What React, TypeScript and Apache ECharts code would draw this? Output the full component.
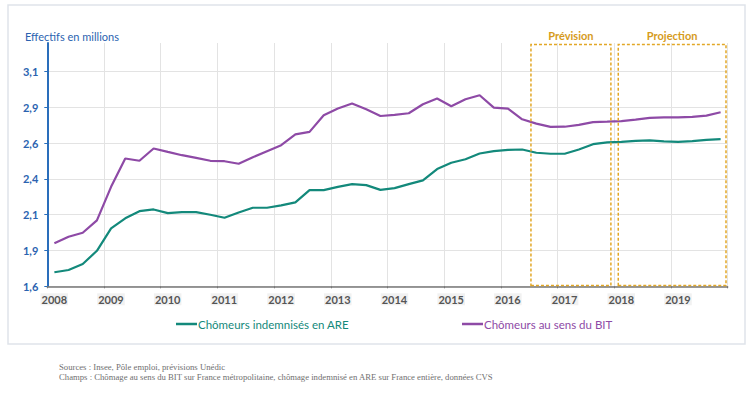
import React, { useEffect, useRef } from "react";
import * as echarts from "echarts";

const YEARS = [2008, 2009, 2010, 2011, 2012, 2013, 2014, 2015, 2016, 2017, 2018, 2019];

// Quarterly values (millions), Q1 2008 .. Q4 2019
const ARE = [
  1.698, 1.714, 1.756, 1.848,
  2.005, 2.075, 2.125, 2.137,
  2.111, 2.118, 2.118, 2.1,
  2.079, 2.116, 2.149, 2.149,
  2.165, 2.186, 2.272, 2.272,
  2.295, 2.314, 2.307, 2.274,
  2.286, 2.314, 2.34, 2.419,
  2.463, 2.488, 2.528, 2.544,
  2.553, 2.556, 2.533, 2.526,
  2.526, 2.556, 2.593, 2.605,
  2.609, 2.616, 2.619, 2.612,
  2.609, 2.614, 2.623, 2.628,
];

const BIT = [
  1.9, 1.946, 1.974, 2.061,
  2.295, 2.493, 2.477, 2.563,
  2.539, 2.516, 2.497, 2.477,
  2.474, 2.456, 2.502, 2.544,
  2.586, 2.661, 2.679, 2.795,
  2.842, 2.877, 2.837, 2.79,
  2.798, 2.809, 2.872, 2.912,
  2.858, 2.907, 2.935, 2.849,
  2.842, 2.767, 2.737, 2.714,
  2.715, 2.728, 2.747, 2.75,
  2.754, 2.765, 2.777, 2.781,
  2.781, 2.784, 2.793, 2.816,
];

const ZONES = [
  { name: "Prévision", from: 2016.53, to: 2017.94 },
  { name: "Projection", from: 2018.07, to: 2019.97 },
];

const NAME_ARE = "Chômeurs indemnisés en ARE";
const NAME_BIT = "Chômeurs au sens du BIT";
const TITLE = "Effectifs en millions";
const SOURCES = "Sources : Insee, Pôle emploi, prévisions Unédic";
const CHAMPS =
  "Champs : Chômage au sens du BIT sur France métropolitaine, chômage indemnisé en ARE sur France entière, données CVS";

const TEAL = "#13897b";
const PURPLE = "#8e4aa6";
const BLUE = "#2b63b0";
const GOLD = "#e2a726";
const FONT = "Lato, 'Noto Sans', sans-serif";
const LABEL_SHIFT = 0.123;

function quarterX(i: number) {
  return YEARS[0] + 0.125 + 0.25 * i;
}

export default function App() {
  const ref = useRef<HTMLDivElement>(null);

  useEffect(() => {
    if (!ref.current) return;
    const chart = echarts.init(ref.current, null, { renderer: "svg" });

    const legendBase = {
      icon: "rect",
      itemWidth: 21,
      itemHeight: 2.5,
      top: 313,
      selectedMode: false,
      textStyle: { fontSize: 11.5, fontFamily: FONT, padding: [0, 0, 0, -4] },
    };

    chart.setOption({
      animation: false,
      backgroundColor: "#ffffff",
      title: {
        text: TITLE,
        left: 20,
        top: 26,
        textStyle: { fontSize: 11, fontWeight: "normal", color: BLUE, fontFamily: FONT },
      },
      legend: [
        {
          ...legendBase,
          left: 171,
          data: [{ name: NAME_ARE, textStyle: { color: TEAL } }],
        },
        {
          ...legendBase,
          left: 457,
          data: [{ name: NAME_BIT, textStyle: { color: PURPLE } }],
        },
      ],
      grid: { left: 47.3, right: 26.3, top: 43, bottom: 106.7, containLabel: false },
      xAxis: {
        type: "value",
        min: 2008,
        max: 2020,
        interval: 1,
        axisLine: { show: true, lineStyle: { color: "#777", width: 1.5 } },
        axisTick: { show: true, length: 2, lineStyle: { color: "#777" } },
        splitLine: { show: true, lineStyle: { color: "#e3e3e3", width: 1 } },
        axisLabel: {
          customValues: YEARS.map((y) => y + LABEL_SHIFT),
          formatter: (v: number) => String(Math.round(v - LABEL_SHIFT)),
          color: "#555",
          fontWeight: "bold",
          fontSize: 11,
          fontFamily: FONT,
          margin: 7,
          backgroundColor: "#f1f1f1",
          padding: [1, 1, 0, 1],
        },
      },
      yAxis: {
        type: "value",
        min: 1.6,
        max: 3.3,
        interval: 0.25,
        axisLine: { show: true, lineStyle: { color: "#2a6ebb", width: 2 } },
        axisTick: { show: true, length: 3, lineStyle: { color: "#2a6ebb" } },
        splitLine: { show: true, showMaxLine: false, lineStyle: { color: "#e3e3e3", width: 1 } },
        axisLabel: {
          showMaxLabel: false,
          color: BLUE,
          fontWeight: "bold",
          fontSize: 11,
          fontFamily: FONT,
          margin: 9,
          formatter: (v: number) =>
            (Math.round(v * 10 + 1e-4) / 10).toFixed(1).replace(".", ","),
        },
      },
      series: [
        {
          name: NAME_ARE,
          type: "line",
          showSymbol: false,
          symbol: "none",
          lineStyle: { color: TEAL, width: 2.2 },
          itemStyle: { color: TEAL },
          data: ARE.map((v, i) => [quarterX(i), v]),
          z: 3,
        },
        {
          name: NAME_BIT,
          type: "line",
          showSymbol: false,
          symbol: "none",
          lineStyle: { color: PURPLE, width: 2.2 },
          itemStyle: { color: PURPLE },
          data: BIT.map((v, i) => [quarterX(i), v]),
          z: 3,
          markArea: {
            silent: true,
            z: 5,
            itemStyle: {
              color: "rgba(0,0,0,0)",
              borderColor: GOLD,
              borderWidth: 1.5,
              borderType: [3, 2],
            },
            label: {
              show: true,
              position: "top",
              distance: 3,
              color: "#d69b1c",
              fontWeight: "bold",
              fontSize: 11,
              fontFamily: FONT,
            },
            data: ZONES.map((z) => [
              { name: z.name, xAxis: z.from, yAxis: 1.605 },
              { xAxis: z.to, yAxis: 3.29 },
            ]),
          },
        },
      ],
      graphic: [
        {
          type: "rect",
          shape: { x: 8, y: 5, width: 737, height: 339 },
          style: { fill: "none", stroke: "#dfe4ea", lineWidth: 1.5 },
          z: -1,
          silent: true,
        },
        {
          type: "text",
          left: 59,
          top: 362,
          style: {
            text: SOURCES,
            fill: "#707070",
            fontSize: 8.7,
            fontFamily: "'Liberation Serif', serif",
          },
        },
        {
          type: "text",
          left: 59,
          top: 372,
          style: {
            text: CHAMPS,
            fill: "#707070",
            fontSize: 8.7,
            fontFamily: "'Liberation Serif', serif",
          },
        },
      ],
    });

    return () => chart.dispose();
  }, []);

  return (
    <div
      ref={ref}
      style={{ position: "fixed", left: 0, top: 0, width: 754, height: 393 }}
    />
  );
}
